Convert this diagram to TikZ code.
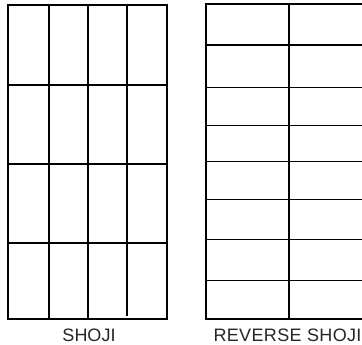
\documentclass[tikz,border=0pt]{standalone}
\usepackage{fontspec}
\setmainfont{Liberation Sans}
\usetikzlibrary{positioning}

\begin{document}
\begin{tikzpicture}[
  x=1pt, y=-1pt,
  bar/.style={draw=black, line width=1.4pt},
  caption/.style={font=\fontsize{18}{20}\selectfont, text=black!85, anchor=base, inner sep=0pt}
]
  \useasboundingbox (0,0) rectangle (362,345);
  \clip (0,0) rectangle (362,345);

  % shoji: tall panes
  \draw[bar] (8,5) rectangle (167,319);
  \foreach \x in {49,88}
    \draw[bar] (\x,5) -- (\x,319);
  \draw[bar] (127,5) -- (127,316);
  \foreach \y in {85,164,243}
    \draw[bar] (8,\y) -- (167,\y);

  % reverse shoji: wide panes
  \draw[bar] (206,4) rectangle (372,319);
  \draw[bar] (289,4) -- (289,319);
  \foreach \y in {45,87.7,125.5,161.7,199.5,239.3,280.3}
    \draw[bar] (206,\y) -- (372,\y);

  \coordinate (shojifoot) at (89,341);
  \coordinate (revfoot) at (287.5,341);
  \node[caption] (shoji) at (shojifoot) {SHOJI};
  \node[caption] (revshoji) at (revfoot) {\addfontfeatures{LetterSpace=2}REVERSE SHOJI};
\end{tikzpicture}
\end{document}
